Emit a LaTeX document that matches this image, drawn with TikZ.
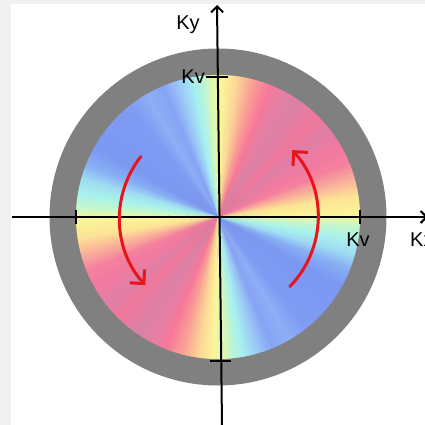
\documentclass[tikz,border=0pt]{standalone}
\usepackage{fontspec}
\setmainfont{Liberation Sans}
\usetikzlibrary{arrows.meta}
\definecolor{bgline}{HTML}{F1F1F1}
\definecolor{ringgray}{HTML}{808080}
\definecolor{arrred}{HTML}{E8141C}
\definecolor{s00}{HTML}{FBF59A}
\definecolor{s08}{HTML}{FCE495}
\definecolor{s15}{HTML}{F9B09A}
\definecolor{s22}{HTML}{F5809E}
\definecolor{s30}{HTML}{F07AA0}
\definecolor{s38}{HTML}{E07FA6}
\definecolor{s45}{HTML}{F0789C}
\definecolor{s55}{HTML}{DC80A6}
\definecolor{s63}{HTML}{E67FA2}
\definecolor{s68}{HTML}{F8789A}
\definecolor{s75}{HTML}{F9A095}
\definecolor{s82}{HTML}{FBD895}
\definecolor{s88}{HTML}{FAF69A}
\definecolor{s92}{HTML}{E0F8B0}
\definecolor{s96}{HTML}{B8F5D8}
\definecolor{s100}{HTML}{A5EEF2}
\definecolor{s106}{HTML}{9CC8F6}
\definecolor{s112}{HTML}{86A4F4}
\definecolor{s120}{HTML}{8FAEF6}
\definecolor{s128}{HTML}{7F9CF4}
\definecolor{s150}{HTML}{7C98F2}
\definecolor{s158}{HTML}{88B0F4}
\definecolor{s164}{HTML}{A0DCF2}
\definecolor{s170}{HTML}{A8F2EC}
\definecolor{s176}{HTML}{C8F7C8}
\tikzset{
  axisline/.style={line width=2pt,-{Straight Barb[length=6pt,width=12pt]}},
  tickline/.style={line width=2pt},
  rotarrow/.style={arrred,line width=3pt,line cap=round,-{Straight Barb[length=10pt,width=20pt]}},
  lbl/.style={inner sep=0pt,font=\fontsize{20}{23}\selectfont}
}
\begin{document}
\begin{tikzpicture}[x=1pt,y=1pt]
\useasboundingbox (-218,-208) rectangle (207,217);
\clip (-218,-208) rectangle (207,217);
\fill[bgline] (-218,-208) rectangle (207,217);
\fill[white] (-207,-208) rectangle (207,213);
% gray ring
\fill[ringgray] (0,0) circle[radius=168.5];
% angular colour wheel
\foreach \a/\b/\ca/\cb in {0/8/s00/s08,8/15/s08/s15,15/22/s15/s22,22/30/s22/s30,30/38/s30/s38,38/45/s38/s45,45/55/s45/s55,55/63/s55/s63,63/68/s63/s68,68/75/s68/s75,75/82/s75/s82,82/88/s82/s88,88/92/s88/s92,92/96/s92/s96,96/100/s96/s100,100/106/s100/s106,106/112/s106/s112,112/120/s112/s120,120/128/s120/s128,128/150/s128/s150,150/158/s150/s158,158/164/s158/s164,164/170/s164/s170,170/176/s170/s176,176/180/s176/s00}{
  \pgfmathtruncatemacro\n{\b-\a-1}
  \foreach \k in {0,...,\n}{
    \pgfmathsetmacro\ang{\a+\k}
    \pgfmathtruncatemacro\p{100*\k/(\b-\a)}
    \pgfmathsetmacro\angb{\ang+180}
    \fill[fill={\cb!\p!\ca}] (0,0) -- (\ang:142) arc[start angle=\ang,end angle=\ang+1.5,radius=142] -- cycle;
    \fill[fill={\cb!\p!\ca}] (0,0) -- (\angb:142) arc[start angle=\angb,end angle=\angb+1.5,radius=142] -- cycle;
  }
}
% axes
\coordinate (xl) at (-206,0);
\coordinate (xr) at (210,0);
\coordinate (yb) at (4,-208);
\coordinate (yt) at (-1,212);
\draw[axisline] (xl) -- (xr);
\draw[axisline] (yb) -- (yt);
% ticks
\coordinate (tr1) at (142,-7); \coordinate (tr2) at (142,7);
\coordinate (tl1) at (-142,-7); \coordinate (tl2) at (-142,7);
\coordinate (tt1) at (-12,140); \coordinate (tt2) at (10,140);
\coordinate (tb1) at (-8,-144); \coordinate (tb2) at (13,-144);
\draw[tickline] (tr1) -- (tr2);
\draw[tickline] (tl1) -- (tl2);
\draw[tickline] (tt1) -- (tt2);
\draw[tickline] (tb1) -- (tb2);
% labels
\node[lbl] (ky) at (-30,192) {Ky};
\node[lbl,anchor=east] (kvt) at (-13,140) {Kv};
\node[lbl] (kvr) at (140,-23) {Kv};
\node[lbl,anchor=west] (kx) at (192,-23) {Kx};
% rotation arrows
\draw[rotarrow] (-44:100) arc[start angle=-44,end angle=42,radius=100];
\draw[rotarrow] (142:98) arc[start angle=142,end angle=222,radius=100];
\end{tikzpicture}
\end{document}
